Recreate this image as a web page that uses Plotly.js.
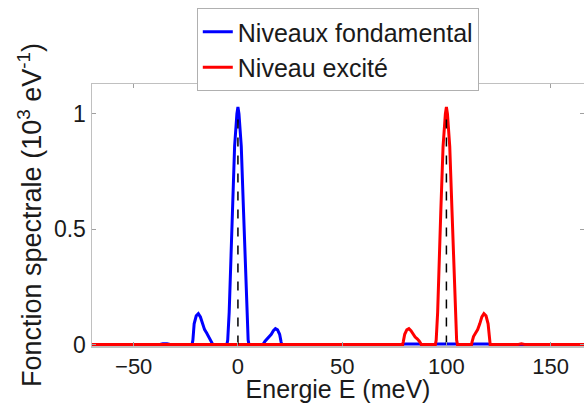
<!DOCTYPE html>
<html><head><meta charset="utf-8">
<script src="https://cdn.plot.ly/plotly-3.0.1.min.js"></script>
<style>body{margin:0;background:#fff}#c{width:584px;height:403px}</style>
</head><body><div id="c"></div>
<script>
// Ground level (Niveaux fondamental)
const groundE = [-70,-38,-36,-34,-32,-22,-21.6,-21,-20,-19,-18,-17,-16,-15,-14,-13,-12,-5.3,-4.9,-4.2,-2.7,-1.6,-0.5,0,0.5,1.6,2.7,4.2,4.9,5.3,12,13,14,15,16,17,18,19,20,20.7,21,79,80,87,88,94,95,105,106,112,113,120,121,166];
const groundA = [0,0,0.004,0.004,0,0,0.02,0.09,0.125,0.134,0.12,0.09,0.065,0.05,0.035,0.015,0,0,0.02,0.14,0.575,0.86,1.0,1.03,1.0,0.86,0.575,0.14,0.02,0,0,0.015,0.025,0.033,0.045,0.06,0.069,0.064,0.045,0.012,0,0,0.003,0.003,0,0,0.003,0.003,0,0,0.003,0.003,0,0];
// Excited level (Niveau excité)
const excE = [-70,79,79.3,80,81,82,83,84,85,86,87,88,94.7,95.1,95.8,97.3,98.4,99.5,100,100.5,101.6,102.7,104.2,104.9,105.3,112,112.4,113,114,115,116,117,118,119,120,120.7,121,134,136,138,166];
const excA = [0,0,0.012,0.045,0.064,0.069,0.06,0.045,0.033,0.025,0.015,0,0,0.02,0.14,0.575,0.86,1.0,1.03,1.0,0.86,0.575,0.14,0.02,0,0,0.015,0.035,0.05,0.065,0.09,0.12,0.134,0.125,0.09,0.02,0,0,0.004,0,0];
// Reference level positions
const levelE = [0, 100];
const levelTop = 1.0;

const traces = [
  {x: groundE, y: groundA, mode:'lines', name:'Niveaux fondamental', line:{color:'#0000ff', width:3}},
  {x: excE, y: excA, mode:'lines', name:'Niveau excité', line:{color:'#ff0000', width:3}},
];
levelE.forEach(e => traces.push({x:[e,e], y:[0, levelTop], mode:'lines', showlegend:false, line:{color:'#000', width:1.5, dash:'dash'}}));

const font = {family:'Liberation Sans, Arial, sans-serif', color:'#1a1a1a'};
const layout = {
  width:584, height:403,
  margin:{l:92, r:0, t:84, b:57},
  paper_bgcolor:'#fff', plot_bgcolor:'#fff',
  font: Object.assign({size:22}, font),
  showlegend:true,
  legend:{x:0.213, y:1.29, xanchor:'left', yanchor:'top', bgcolor:'#fff', bordercolor:'#b0b0b0', borderwidth:1,
          font:Object.assign({size:25}, font), tracegroupgap:0},
  xaxis:{range:[-70,166], tickvals:[-50,0,50,100,150], ticks:'inside', ticklen:4, tickcolor:'#a0a0a0',
         showline:true, linecolor:'#c0c0c0', linewidth:1.5, mirror:'ticks', showgrid:false, zeroline:false,
         tickfont:Object.assign({size:22}, font),
         title:{text:'Energie E (meV)', font:Object.assign({size:25}, font), standoff:7}},
  yaxis:{range:[-0.006,1.13], tickvals:[0,0.5,1], ticktext:['0','0.5','1'], ticks:'inside', ticklen:4, tickcolor:'#a0a0a0',
         showline:true, linecolor:'#c0c0c0', linewidth:1.5, mirror:'ticks', showgrid:false, zeroline:false,
         tickfont:Object.assign({size:23}, font),
         title:{text:'Fonction spectrale (10<sup>3</sup> eV<sup>-1</sup>)', font:Object.assign({size:27}, font), standoff:4}}
};
Plotly.newPlot('c', traces, layout, {displayModeBar:false, staticPlot:true});
</script></body></html>
